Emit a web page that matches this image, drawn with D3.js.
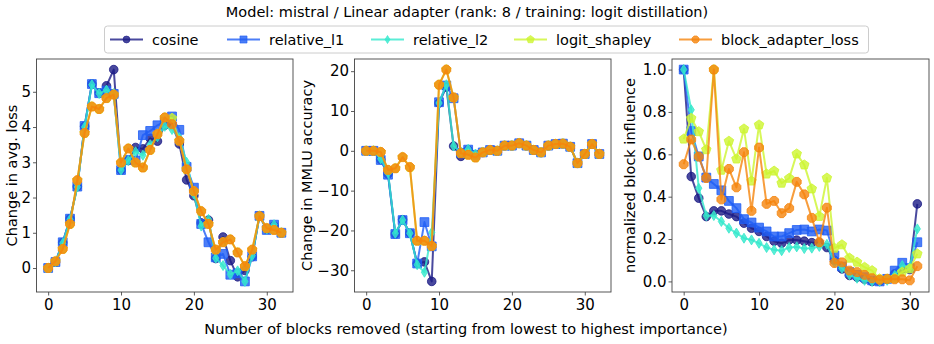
<!DOCTYPE html>
<html>
<head>
<meta charset="utf-8">
<script src="https://cdn.jsdelivr.net/npm/d3@7/dist/d3.min.js"></script>
<style>
    body { margin: 0; background: #fff; }
    text { font-family: "DejaVu Sans", sans-serif; fill: #000; }
</style>
</head>
<body>
<div class="my_div"></div>
<script>
// ---- data ----
var seriesNames = ["cosine", "relative_l1", "relative_l2", "logit_shapley", "block_adapter_loss"];

// x = number of blocks removed (0..32) for the loss and MMLU panels
var blocksRemoved = d3.range(0, 33);
// x = block index (0..31) for the influence panel
var blockIndex = d3.range(0, 32);

// Change in avg. loss
var lossCosine  = [0, 0.17, 0.72, 1.40, 2.31, 4.02, 5.22, 4.97, 5.17, 5.63, 2.78, 3.05, 3.42, 3.38, 3.68, 3.60, 4.05, 4.10, 3.52, 2.50, 2.05, 1.28, 1.36, 0.27, 0.88, 0.21, -0.25, -0.07, 0.32, 1.48, 1.10, 1.20, 1.00];
var lossRelL1   = [0, 0.17, 0.73, 1.40, 2.31, 4.03, 5.22, 4.96, 5.03, 4.94, 2.78, 3.07, 3.05, 3.77, 3.89, 4.05, 4.15, 4.30, 3.92, 2.87, 2.28, 1.25, 0.73, 0.30, 0.40, -0.19, -0.15, -0.38, 0.33, 1.48, 1.08, 1.23, 1.00];
var lossRelL2   = [0, 0.17, 0.70, 1.38, 2.30, 4.00, 5.20, 4.95, 5.05, 4.95, 2.78, 3.05, 3.30, 3.20, 3.50, 3.72, 4.02, 3.93, 3.70, 3.00, 2.10, 1.19, 1.38, 0.28, 0.07, -0.18, -0.08, -0.38, 0.35, 1.48, 1.10, 1.23, 1.00];
var lossShapley = [0, 0.19, 0.54, 1.25, 2.49, 3.83, 4.58, 4.51, 4.82, 4.92, 2.99, 3.39, 2.99, 2.85, 3.35, 3.80, 4.27, 4.25, 3.61, 2.80, 2.18, 1.61, 1.25, 0.52, 0.73, 0.81, 0.44, 0.05, 0.52, 1.47, 1.13, 1.08, 1.00];
var lossAdapter = [0, 0.19, 0.54, 1.25, 2.49, 3.83, 4.58, 4.51, 4.82, 4.92, 2.99, 3.39, 2.99, 2.85, 3.35, 3.80, 4.27, 4.08, 3.61, 2.80, 2.18, 1.61, 1.25, 0.52, 0.73, 0.81, 0.44, 0.05, 0.52, 1.47, 1.13, 1.08, 1.00];

// Change in MMLU accuracy
var mmluCosine  = [0, 0, -2.2, -5.8, -20.9, -17.3, -20.7, -28.3, -27.9, -32.8, 12.0, 16.0, 1.2, -1.4, 0.2, -1.0, -0.4, 0.2, 0.0, 1.3, 1.3, 1.9, 1.3, 0.2, -0.4, 1.3, 1.7, 1.8, 1.0, -3.1, -0.8, 1.7, -0.8];
var mmluRelL1   = [0, 0, -2.3, -6.0, -20.9, -17.4, -20.7, -28.3, -17.9, -24.0, 12.2, 16.4, 13.2, -0.5, 0.3, -1.0, -0.4, 0.2, 0.0, 1.3, 1.3, 1.9, 1.3, 0.2, -0.4, 1.3, 1.7, 1.8, 1.0, -3.1, -0.8, 1.7, -0.8];
var mmluRelL2   = [0, 0, -2.0, -5.5, -20.7, -17.4, -20.7, -28.6, -30.5, -20.5, 12.0, 16.6, 1.2, -0.3, 0.4, -0.8, -0.3, 0.2, 0.0, 1.3, 1.3, 1.9, 1.3, 0.2, -0.4, 1.3, 1.7, 1.8, 1.0, -3.1, -0.8, 1.7, -0.8];
var mmluShapley = [0, 0, -0.3, -4.8, -4.4, -1.6, -4.1, -22.6, -22.6, -23.9, 16.6, 20.4, 13.4, -0.6, -1.0, -1.7, -0.4, 0.2, 0.0, 1.3, 1.3, 1.9, 1.3, 0.2, -0.4, 1.3, 1.7, 1.8, 1.0, -3.1, -0.8, 1.7, -0.8];
var mmluAdapter = [0, 0, -0.3, -4.8, -4.4, -1.6, -4.1, -22.6, -22.6, -23.9, 16.6, 20.4, 13.4, -0.6, -1.0, -1.7, -0.4, 0.2, 0.0, 1.3, 1.3, 1.9, 1.3, 0.2, -0.4, 1.3, 1.7, 1.8, 1.0, -3.1, -0.8, 1.7, -0.8];

// normalized block influence
var inflCosine  = [1.0, 0.495, 0.393, 0.306, 0.333, 0.333, 0.318, 0.306, 0.275, 0.251, 0.236, 0.212, 0.19, 0.18, 0.196, 0.195, 0.19, 0.183, 0.183, 0.16, 0.10, 0.059, 0.028, 0.02, 0.01, 0.0, 0.0, 0.01, 0.036, 0.059, 0.056, 0.366];
var inflRelL1   = [1.0, 0.71, 0.59, 0.49, 0.46, 0.43, 0.38, 0.346, 0.294, 0.278, 0.254, 0.236, 0.212, 0.212, 0.228, 0.243, 0.245, 0.236, 0.245, 0.24, 0.122, 0.07, 0.044, 0.031, 0.02, 0.005, 0.0, 0.012, 0.051, 0.088, 0.063, 0.185];
var inflRelL2   = [1.0, 0.81, 0.44, 0.31, 0.311, 0.283, 0.251, 0.228, 0.204, 0.196, 0.18, 0.16, 0.149, 0.145, 0.16, 0.163, 0.155, 0.157, 0.165, 0.175, 0.09, 0.062, 0.031, 0.015, 0.005, 0.0, 0.0, 0.005, 0.028, 0.075, 0.067, 0.248];
var inflShapley = [0.672, 0.77, 0.707, 0.622, 1.0, 0.525, 0.662, 0.578, 0.72, 0.474, 0.739, 0.507, 0.521, 0.464, 0.487, 0.602, 0.55, 0.437, 0.307, 0.488, 0.157, 0.173, 0.11, 0.091, 0.067, 0.051, 0.012, 0.012, 0.015, 0.044, 0.06, 0.13];
var inflAdapter = [0.553, 0.67, 0.589, 0.488, 1.0, 0.387, 0.531, 0.444, 0.61, 0.333, 0.632, 0.366, 0.38, 0.322, 0.346, 0.47, 0.411, 0.3, 0.185, 0.348, 0.087, 0.09, 0.051, 0.044, 0.031, 0.015, 0.008, 0.012, 0.01, 0.01, 0.005, 0.072];

var xTicks = [0, 10, 20, 30];
var lossTicks = [0, 1, 2, 3, 4, 5];
var mmluTicks = [-30, -20, -10, 0, 10, 20];
var inflTicks = [0.0, 0.2, 0.4, 0.6, 0.8, 1.0];

var titleText = "Model: mistral / Linear adapter (rank: 8 / training: logit distillation)";
var xLabelText = "Number of blocks removed (starting from lowest to highest importance)";

// ---- styles ----
var colors = ["#1c1c86", "#1f5ef5", "#33e8cc", "#cdf530", "#f5850c"];
var markers = ["circle", "square", "thin_diamond", "pentagon", "octagon"];
var alpha = 0.8;
var fontSize = 14.5;

var width = 934, height = 344;

var svg = d3.select(".my_div")
    .append("svg")
    .attr("width", width)
    .attr("height", height);

// Marker path for a given shape, centred on 0,0
function markerPath(kind) {
    var pts = [];
    var poly = (n, r, rot) => {
        for (var k = 0; k < n; k++) {
            var a = rot + k * 2 * Math.PI / n;
            pts.push([r * Math.sin(a), -r * Math.cos(a)]);
        }
    };
    if (kind == "circle") {
        return d3.symbol().type(d3.symbolCircle).size(Math.PI * 4.3 * 4.3)();
    }
    if (kind == "square") {
        pts = [[-4.4, -4.4], [4.4, -4.4], [4.4, 4.4], [-4.4, 4.4]];
    } else if (kind == "thin_diamond") {
        pts = [[0, -5], [3.1, 0], [0, 5], [-3.1, 0]];
    } else if (kind == "pentagon") {
        poly(5, 5, 0);
    } else if (kind == "octagon") {
        poly(8, 4.8, Math.PI / 8);
    }
    return "M" + pts.map((p) => { return p[0].toFixed(2) + "," + p[1].toFixed(2) }).join("L") + "Z";
}

// One panel of the figure
function panel(opts) {
    var g = svg.append("g");

    var all = [].concat.apply([], opts.series);
    var ymin = d3.min(all), ymax = d3.max(all);
    var ypad = (ymax - ymin) * 0.05;
    var xmin = d3.min(opts.x), xmax = d3.max(opts.x);
    var xpad = (xmax - xmin) * 0.05;

    var xScale = d3.scaleLinear()
        .domain([xmin - xpad, xmax + xpad])
        .range([opts.left, opts.right]);
    var yScale = d3.scaleLinear()
        .domain([ymin - ypad, ymax + ypad])
        .range([opts.bottom, opts.top]);

    var xAxis = g.append("g")
        .attr("transform", "translate(0," + opts.bottom + ")")
        .call(d3.axisBottom(xScale).tickValues(opts.xTicks).tickSize(3.5).tickPadding(4));
    var yAxis = g.append("g")
        .attr("transform", "translate(" + opts.left + ",0)")
        .call(d3.axisLeft(yScale).tickValues(opts.yTicks).tickSize(3.5).tickPadding(2)
            .tickFormat(opts.yFormat));

    [xAxis, yAxis].forEach((a) => {
        a.select(".domain").remove();
        a.selectAll(".tick line").attr("stroke", "#333").attr("stroke-width", 0.8);
        a.selectAll(".tick text")
            .attr("font-size", 15)
            .attr("font-family", "DejaVu Sans")
            .attr("fill", "#000");
    });

    var line = d3.line()
        .x((d, i) => { return xScale(opts.x[i]); })
        .y((d) => { return yScale(d); });

    opts.series.forEach((vals, s) => {
        var sg = g.append("g");
        sg.append("path")
            .datum(vals)
            .attr("d", line)
            .attr("fill", "none")
            .attr("stroke", colors[s])
            .attr("stroke-opacity", alpha)
            .attr("stroke-width", 2)
            .attr("stroke-linejoin", "round");
        var mp = markerPath(markers[s]);
        sg.selectAll("path.m")
            .data(vals)
            .enter()
            .append("path")
            .attr("class", "m")
            .attr("d", mp)
            .attr("transform", (d, i) => { return "translate(" + xScale(opts.x[i]) + "," + yScale(d) + ")"; })
            .attr("fill", colors[s])
            .attr("fill-opacity", alpha)
            .attr("stroke", colors[s])
            .attr("stroke-opacity", alpha)
            .attr("stroke-width", 1);
    });

    // frame
    g.append("rect")
        .attr("x", opts.left)
        .attr("y", opts.top)
        .attr("width", opts.right - opts.left)
        .attr("height", opts.bottom - opts.top)
        .attr("fill", "none")
        .attr("stroke", "#444")
        .attr("stroke-width", 0.9);

    // y label
    g.append("text")
        .text(opts.yLabel)
        .attr("transform", "translate(" + opts.yLabelX + "," + ((opts.top + opts.bottom) / 2) + ") rotate(-90)")
        .attr("text-anchor", "middle")
        .attr("dy", "0.35em")
        .attr("font-size", fontSize);
}

var plotTop = 59, plotBottom = 292;

panel({
    left: 36.5, right: 293, top: plotTop, bottom: plotBottom,
    x: blocksRemoved,
    series: [lossCosine, lossRelL1, lossRelL2, lossShapley, lossAdapter],
    xTicks: xTicks, yTicks: lossTicks, yFormat: d3.format("d"),
    yLabel: "Change in avg. loss", yLabelX: 12
});

panel({
    left: 354.5, right: 611, top: plotTop, bottom: plotBottom,
    x: blocksRemoved,
    series: [mmluCosine, mmluRelL1, mmluRelL2, mmluShapley, mmluAdapter],
    xTicks: xTicks, yTicks: mmluTicks, yFormat: (d) => { return d < 0 ? "\u2212" + Math.abs(d) : d; },
    yLabel: "Change in MMLU accuracy", yLabelX: 307
});

panel({
    left: 672, right: 929, top: plotTop, bottom: plotBottom,
    x: blockIndex,
    series: [inflCosine, inflRelL1, inflRelL2, inflShapley, inflAdapter],
    xTicks: xTicks, yTicks: inflTicks, yFormat: d3.format(".1f"),
    yLabel: "normalized block influence", yLabelX: 630
});

// Title
svg.append("text")
    .text(titleText)
    .attr("x", 467)
    .attr("y", 12)
    .attr("dy", "0.35em")
    .attr("text-anchor", "middle")
    .attr("font-size", fontSize);

// Common x label
svg.append("text")
    .text(xLabelText)
    .attr("x", 466)
    .attr("y", 329)
    .attr("dy", "0.35em")
    .attr("text-anchor", "middle")
    .attr("font-size", fontSize);

// Legend
var legend = svg.append("g");
legend.append("rect")
    .attr("x", 104.5)
    .attr("y", 26)
    .attr("width", 764)
    .attr("height", 27)
    .attr("rx", 3)
    .attr("fill", "#fff")
    .attr("stroke", "#ccc")
    .attr("stroke-width", 1);

var legendX = [110, 227, 371, 514, 679];
seriesNames.forEach((name, s) => {
    var lg = legend.append("g").attr("transform", "translate(" + legendX[s] + ",39.5)");
    lg.append("line")
        .attr("x1", 0).attr("x2", 33)
        .attr("stroke", colors[s])
        .attr("stroke-opacity", alpha)
        .attr("stroke-width", 2);
    lg.append("path")
        .attr("d", markerPath(markers[s]))
        .attr("transform", "translate(16.5,0) scale(0.8)")
        .attr("fill", colors[s])
        .attr("fill-opacity", alpha)
        .attr("stroke", colors[s])
        .attr("stroke-opacity", alpha);
    lg.append("text")
        .text(name)
        .attr("x", 42)
        .attr("dy", "0.35em")
        .attr("font-size", fontSize);
});
</script>
</body>
</html>
